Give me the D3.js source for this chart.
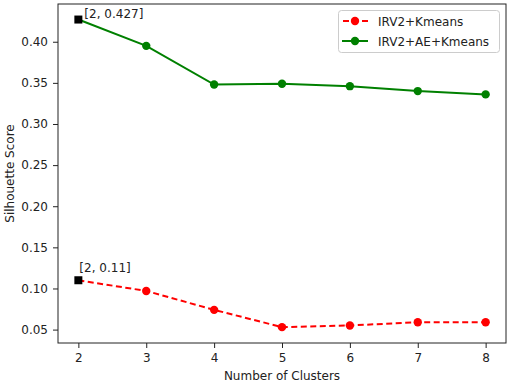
<!DOCTYPE html>
<html>
<head>
<meta charset="utf-8">
<script src="https://cdn.jsdelivr.net/npm/d3@7"></script>
<style>
  body { margin: 0; background: #fff; }
  svg text { font-family: "DejaVu Sans", sans-serif; fill: #222; }
</style>
</head>
<body>
<div id="chart"></div>
<script>
const clusters = [2, 3, 4, 5, 6, 7, 8];
const kmeansScores = [0.110, 0.097, 0.074, 0.053, 0.055, 0.059, 0.059];
const aeKmeansScores = [0.427, 0.395, 0.348, 0.349, 0.346, 0.340, 0.336];
const yTicks = [0.05, 0.10, 0.15, 0.20, 0.25, 0.30, 0.35, 0.40];
const seriesNames = ['IRV2+Kmeans', 'IRV2+AE+Kmeans'];

const width = 510, height = 383;
const margin = { top: 4, right: 4, bottom: 40, left: 58 };

const svg = d3.select('#chart').append('svg')
  .attr('width', width)
  .attr('height', height);

const x = d3.scaleLinear()
  .domain([1.7, 8.3])
  .range([margin.left, width - margin.right]);

const y = d3.scaleLinear()
  .domain([0.0337, 0.4459])
  .range([height - margin.bottom, margin.top]);

// axes
const xAxis = svg.append('g')
  .attr('transform', 'translate(0,' + (height - margin.bottom) + ')')
  .call(d3.axisBottom(x).tickValues(clusters).tickSize(5).tickPadding(5).tickFormat(d3.format('d')));

const yAxis = svg.append('g')
  .attr('transform', 'translate(' + margin.left + ',0)')
  .call(d3.axisLeft(y).tickValues(yTicks).tickSize(5).tickPadding(5).tickFormat(d3.format('.2f')));

[xAxis, yAxis].forEach(a => {
  a.selectAll('text').style('font-size', '12px').attr('fill', '#222');
  a.selectAll('line').attr('stroke', '#222');
  a.select('.domain').remove();
});

// frame
svg.append('rect')
  .attr('x', margin.left)
  .attr('y', margin.top)
  .attr('width', width - margin.left - margin.right)
  .attr('height', height - margin.top - margin.bottom)
  .attr('fill', 'none')
  .attr('stroke', '#222')
  .attr('stroke-width', 1);

// series
const series = [
  { name: seriesNames[0], values: kmeansScores, color: 'red', dash: '6,3.5' },
  { name: seriesNames[1], values: aeKmeansScores, color: 'green', dash: null }
];

const line = d3.line()
  .x((d, i) => x(clusters[i]))
  .y(d => y(d));

series.forEach(s => {
  svg.append('path')
    .datum(s.values)
    .attr('d', line)
    .attr('fill', 'none')
    .attr('stroke', s.color)
    .attr('stroke-width', 2)
    .attr('stroke-dasharray', s.dash);

  svg.append('g')
    .selectAll('circle')
    .data(s.values.slice(1))
    .enter()
    .append('circle')
    .attr('cx', (d, i) => x(clusters[i + 1]))
    .attr('cy', d => y(d))
    .attr('r', 4.2)
    .attr('fill', s.color);

  // highlighted first point
  svg.append('rect')
    .attr('x', x(clusters[0]) - 4)
    .attr('y', y(s.values[0]) - 4)
    .attr('width', 8)
    .attr('height', 8)
    .attr('fill', 'black');
});

// annotations
svg.append('text')
  .attr('x', x(clusters[0]) + 6)
  .attr('y', y(aeKmeansScores[0]) - 2)
  .style('font-size', '12px')
  .text('[' + clusters[0] + ', ' + aeKmeansScores[0] + ']');

svg.append('text')
  .attr('x', x(clusters[0]) + 1)
  .attr('y', y(kmeansScores[0]) - 8)
  .style('font-size', '12px')
  .text('[' + clusters[0] + ', ' + kmeansScores[0] + ']');

// axis labels
svg.append('text')
  .attr('x', (margin.left + width - margin.right) / 2)
  .attr('y', 380)
  .attr('text-anchor', 'middle')
  .style('font-size', '12px')
  .text('Number of Clusters');

svg.append('text')
  .attr('transform', 'translate(14,' + ((margin.top + height - margin.bottom) / 2) + ') rotate(-90)')
  .attr('text-anchor', 'middle')
  .style('font-size', '12px')
  .text('Silhouette Score');

// legend
const legend = svg.append('g');
legend.append('rect')
  .attr('x', 338.5)
  .attr('y', 10.5)
  .attr('width', 161)
  .attr('height', 42)
  .attr('rx', 3)
  .attr('fill', 'white')
  .attr('fill-opacity', 0.8)
  .attr('stroke', '#ccc');

series.forEach((s, i) => {
  const ly = 21 + i * 20;
  legend.append('line')
    .attr('x1', 342).attr('x2', 368)
    .attr('y1', ly).attr('y2', ly)
    .attr('stroke', s.color)
    .attr('stroke-width', 2)
    .attr('stroke-dasharray', s.dash ? '6,3.5' : null)
    .attr('stroke-dashoffset', s.dash ? -1 : null);
  legend.append('circle')
    .attr('cx', 355).attr('cy', ly).attr('r', 4.2)
    .attr('fill', s.color);
  legend.append('text')
    .attr('x', 378)
    .attr('y', ly + 4.5)
    .style('font-size', '12px')
    .text(s.name);
});
</script>
</body>
</html>
